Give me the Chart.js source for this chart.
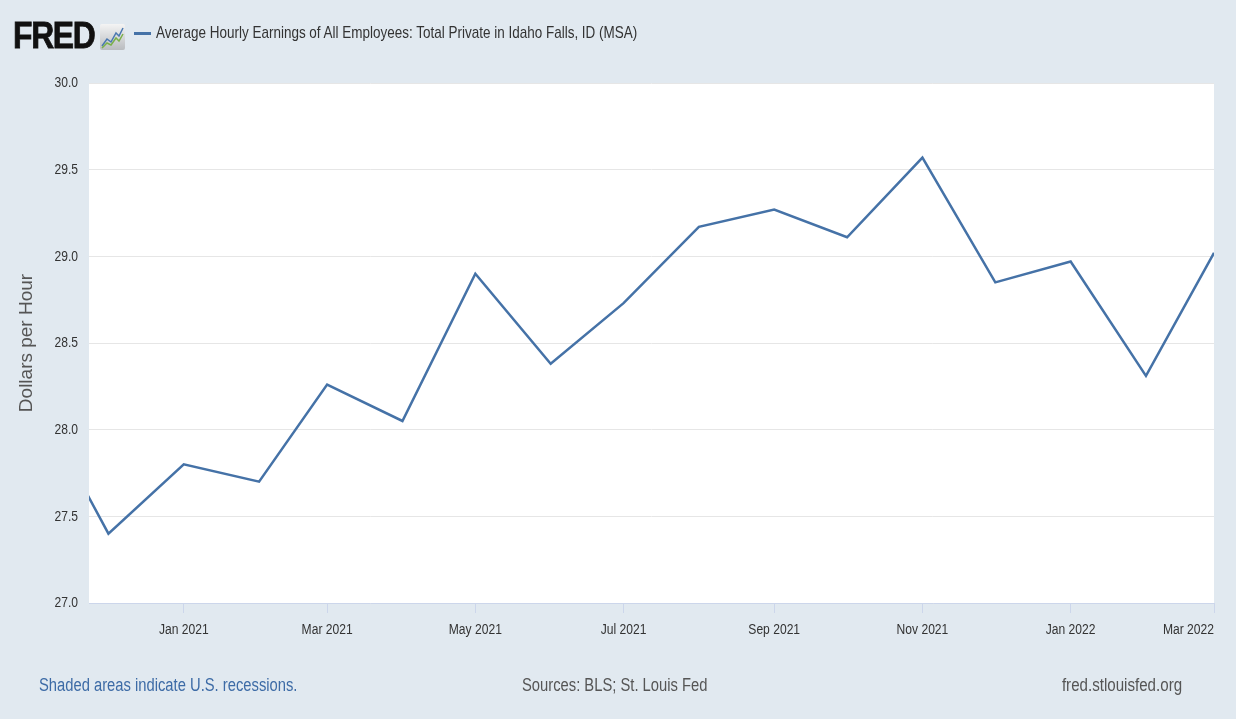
<!DOCTYPE html>
<html><head><meta charset="utf-8">
<script src="https://cdn.jsdelivr.net/npm/chart.js@4"></script>
<style>
html,body{margin:0;padding:0;background:#e1e9f0;}
#wrap{position:relative;width:1236px;height:719px;background:#e1e9f0;overflow:hidden;}
#c{position:absolute;left:0;top:0;}
.t{position:absolute;white-space:nowrap;font-family:"Liberation Sans",Arial,sans-serif;line-height:1;transform-origin:left center;}
</style></head><body>
<div id="wrap">
<canvas id="c" width="1236" height="719"></canvas>
<div class="t" style="left:13px;top:17px;font-size:37px;font-weight:bold;color:#111;letter-spacing:-1.5px;transform:scaleX(0.86);-webkit-text-stroke:0.8px #111;">FRED</div>
<svg style="position:absolute;left:100px;top:24px" width="25" height="26" viewBox="0 0 25 26">
<defs><linearGradient id="g" x1="0" y1="0" x2="0" y2="1"><stop offset="0" stop-color="#f4f4f4"/><stop offset="1" stop-color="#b9bcc0"/></linearGradient></defs>
<rect x="0" y="0" width="25" height="26" rx="2" fill="url(#g)"/>
<polyline points="2,22 7,15 11,18 16,9 19,12 23,4" fill="none" stroke="#4a78b0" stroke-width="1.5"/>
<polyline points="2,24 7,19 11,21 16,14 19,17 23,10" fill="none" stroke="#7ab04a" stroke-width="1.5"/>
</svg>
<div style="position:absolute;left:134px;top:32px;width:17px;height:3px;background:#4572a7"></div>
<div class="t" style="left:156px;top:24px;font-size:17px;color:#333;transform:scaleX(0.793);">Average Hourly Earnings of All Employees: Total Private in Idaho Falls, ID (MSA)</div>
<div class="t" style="left:39px;top:676px;font-size:18px;color:#3d6ba6;transform:scaleX(0.82);">Shaded areas indicate U.S. recessions.</div>
<div class="t" style="left:522px;top:676px;font-size:18px;color:#555;transform:scaleX(0.82);">Sources: BLS; St. Louis Fed</div>
<div class="t" style="right:54px;top:676px;font-size:18px;color:#555;transform:scaleX(0.84);transform-origin:right center;">fred.stlouisfed.org</div>
</div>
<script>
// Data
const months = ["2020-11-01","2020-12-01","2021-01-01","2021-02-01","2021-03-01","2021-04-01","2021-05-01","2021-06-01","2021-07-01","2021-08-01","2021-09-01","2021-10-01","2021-11-01","2021-12-01","2022-01-01","2022-02-01","2022-03-01"];
const earnings = [28.18,27.40,27.80,27.70,28.26,28.05,28.90,28.38,28.73,29.17,29.27,29.11,29.57,28.85,28.97,28.31,29.02];
const tickDates = ["2021-01-01","2021-03-01","2021-05-01","2021-07-01","2021-09-01","2021-11-01","2022-01-01","2022-03-01"];
const tickLabels = ["Jan 2021","Mar 2021","May 2021","Jul 2021","Sep 2021","Nov 2021","Jan 2022","Mar 2022"];
const xStart = "2020-11-23";
const xEnd = "2022-03-01";

const DAY = 86400000;
const toDay = s => Date.parse(s + "T00:00:00Z") / DAY;
const FONT = '"Liberation Sans",Arial,sans-serif';

const canvas = document.getElementById('c');
const ctx2d = canvas.getContext('2d');
// Condensed look for horizontal tick labels (matches the narrow typeface of the reference)
const origFillText = ctx2d.fillText.bind(ctx2d);
ctx2d.fillText = function (text, x, y, maxWidth) {
  const m = this.getTransform();
  if (Math.abs(m.b) > 1e-6 || Math.abs(m.c) > 1e-6) {
    return maxWidth === undefined ? origFillText(text, x, y) : origFillText(text, x, y, maxWidth);
  }
  this.save();
  this.translate(x, y);
  this.scale(0.78, 1);
  if (maxWidth === undefined) origFillText(text, 0, 0); else origFillText(text, 0, 0, maxWidth / 0.78);
  this.restore();
};

const whiteArea = {
  id: 'whiteArea',
  beforeDraw(chart) {
    const a = chart.chartArea, ctx = chart.ctx;
    ctx.save(); ctx.fillStyle = '#ffffff';
    ctx.fillRect(a.left, a.top, a.right - a.left, a.bottom - a.top);
    ctx.restore();
  }
};

new Chart(canvas, {
  type: 'line',
  data: {
    datasets: [{
      data: months.map((m, i) => ({ x: toDay(m), y: earnings[i] })),
      borderColor: '#4572a7',
      borderWidth: 2.5,
      pointRadius: 0,
      tension: 0,
      fill: false
    }]
  },
  options: {
    responsive: false,
    animation: false,
    layout: { padding: { left: 0, right: 22, top: 83, bottom: 66 } },
    plugins: { legend: { display: false }, tooltip: { enabled: false }, title: { display: false } },
    scales: {
      x: {
        type: 'linear',
        min: toDay(xStart),
        max: toDay(xEnd),
        afterBuildTicks: s => { s.ticks = [{ value: s.min }].concat(tickDates.map(d => ({ value: toDay(d) }))); },
        ticks: {
          autoSkip: false, maxRotation: 0, align: 'inner',
          callback: (v, i) => i === 0 ? '' : tickLabels[i - 1],
          font: { family: FONT, size: 15.5 }, color: '#333', padding: 7
        },
        grid: { drawOnChartArea: false, tickLength: 10, color: c => c.index === 0 ? 'rgba(0,0,0,0)' : '#ccd6eb' },
        border: { color: '#ccd6eb', width: 1 },
        afterFit: s => { s.height = 50; }
      },
      y: {
        min: 27, max: 30,
        ticks: { stepSize: 0.5, callback: v => Number(v).toFixed(1), font: { family: FONT, size: 15.5 }, color: '#333', padding: 11 },
        grid: { color: '#e6e6e6', drawTicks: false, lineWidth: 1 },
        border: { display: false },
        title: { display: true, text: 'Dollars per Hour', font: { family: FONT, size: 19 }, color: '#555', padding: { top: 15, bottom: 0 } },
        afterFit: s => { s.width = 89; }
      }
    }
  },
  plugins: [whiteArea]
});
</script>
</body></html>
